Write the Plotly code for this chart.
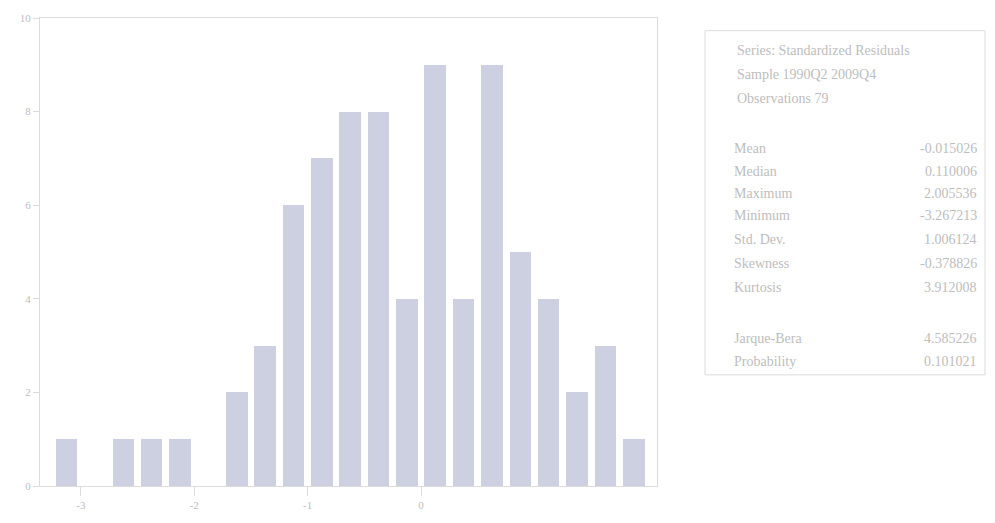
import plotly.graph_objects as go

# ---- data ----
bin_centers = [-3.125, -2.875, -2.625, -2.375, -2.125, -1.875, -1.625, -1.375, -1.125, -0.875,
               -0.625, -0.375, -0.125, 0.125, 0.375, 0.625, 0.875, 1.125, 1.375, 1.625, 1.875]
counts = [1, 0, 1, 1, 1, 0, 2, 3, 6, 7, 8, 8, 4, 9, 4, 9, 5, 4, 2, 3, 1]
x_ticks = [-3, -2, -1, 0]
x_tick_labels = ["-3", "-2", "-1", "0"]
y_ticks = [0, 2, 4, 6, 8, 10]

header_lines = ["Series: Standardized Residuals", "Sample 1990Q2 2009Q4", "Observations 79"]
stat_names = ["Mean", "Median", "Maximum", "Minimum", "Std. Dev.", "Skewness", "Kurtosis"]
stat_values = ["-0.015026", "0.110006", "2.005536", "-3.267213", "1.006124", "-0.378826", "3.912008"]
test_names = ["Jarque-Bera", "Probability"]
test_values = ["4.585226", "0.101021"]

bar_color = "#cdd0e0"
text_color = "#bdbdbd"
line_color = "#dcdcdc"

W, H = 995, 523
pl, pr, pt, pb = 40, 338, 14, 29
aw, ah = W - pl - pr, H - pt - pb

fig = go.Figure()
fig.add_trace(go.Bar(x=bin_centers, y=counts, width=0.19,
                     marker=dict(color=bar_color, line=dict(width=0)),
                     showlegend=False))

fig.update_layout(
    width=W, height=H,
    margin=dict(l=pl, r=pr, t=pt, b=pb),
    paper_bgcolor="white", plot_bgcolor="white",
    font=dict(family="Liberation Serif", size=11, color=text_color),
    xaxis=dict(range=[-3.36, 2.08], tickvals=x_ticks, ticktext=x_tick_labels,
               showgrid=False, zeroline=False, showline=True, linecolor=line_color,
               mirror=True, ticks="outside", ticklen=9, tickcolor=line_color,
               tickfont=dict(size=11, color=text_color)),
    yaxis=dict(range=[0, 10], tickvals=y_ticks, showgrid=False, zeroline=False,
               showline=True, linecolor=line_color, mirror=True,
               ticks="outside", ticklen=6, tickcolor=line_color,
               tickfont=dict(size=11, color=text_color)),
    bargap=0,
)

def ax_x(x):
    return (x - pl) / aw
def ax_y(y):
    return 1 - (y - pt) / ah

fig.add_shape(type="rect", xref="paper", yref="paper",
              x0=ax_x(705), y0=ax_y(380), x1=ax_x(985), y1=ax_y(27),
              line=dict(color=line_color, width=1), fillcolor="rgba(0,0,0,0)")

def add_text(txt, x, y, anchor):
    fig.add_annotation(text=txt, xref="paper", yref="paper", x=ax_x(x), y=ax_y(y),
                       xanchor=anchor, yanchor="middle", showarrow=False,
                       font=dict(family="Liberation Serif", size=14, color=text_color))

header_y = [47, 72, 97]
for t, yy in zip(header_lines, header_y):
    add_text(t, 735, yy, "left")

stat_y = [148, 171, 194, 217, 241, 266, 290]
for n, v, yy in zip(stat_names, stat_values, stat_y):
    add_text(n, 732, yy, "left")
    add_text(v, 979, yy, "right")

test_y = [343, 366]
for n, v, yy in zip(test_names, test_values, test_y):
    add_text(n, 732, yy, "left")
    add_text(v, 979, yy, "right")

fig.write_html("out.html")
